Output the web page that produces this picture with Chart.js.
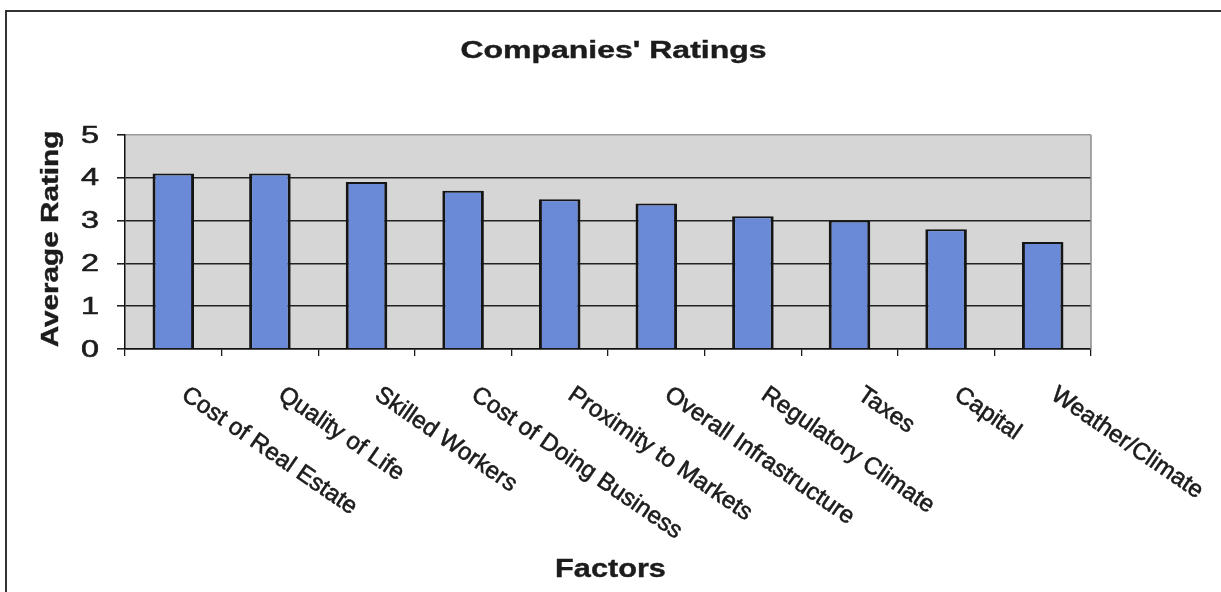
<!DOCTYPE html>
<html>
<head>
<meta charset="utf-8">
<script src="https://cdn.jsdelivr.net/npm/chart.js@4.4.1/dist/chart.umd.min.js"></script>
<style>
  html, body { margin: 0; padding: 0; background: #fff; }
  #wrap { width: 1221px; height: 592px; }
</style>
</head>
<body>
<div id="wrap"><canvas id="chart"></canvas></div>
<script>
// Companies' ratings by location factor
const factors = [
  "Cost of Real Estate", "Quality of Life", "Skilled Workers", "Cost of Doing Business",
  "Proximity to Markets", "Overall Infrastructure", "Regulatory Climate", "Taxes",
  "Capital", "Weather/Climate"
];
const ratings = [4.1, 4.1, 3.9, 3.7, 3.5, 3.4, 3.1, 3.0, 2.8, 2.5];
const yTicks = [0, 1, 2, 3, 4, 5];

const chartTitle = "Companies' Ratings";
const xTitle = "Factors";
const yTitle = "Average Rating";

const INK = "#1c1c1c";
const FONT = "'Liberation Sans', Arial, sans-serif";

// draw text with optional rotation, horizontal stretch and a thin outline
function drawText(ctx, text, x, y, o) {
  ctx.save();
  ctx.font = o.font;
  ctx.fillStyle = INK;
  ctx.strokeStyle = INK;
  ctx.lineWidth = o.stroke || 0;
  ctx.textAlign = o.align || "center";
  ctx.textBaseline = o.baseline || "alphabetic";
  ctx.translate(x, y);
  if (o.rot) ctx.rotate(o.rot * Math.PI / 180);
  ctx.scale(o.sx || 1, 1);
  ctx.fillText(text, 0, 0);
  if (o.stroke) ctx.strokeText(text, 0, 0);
  ctx.restore();
}

const decor = {
  id: "decor",
  beforeDraw(chart) {
    const { ctx, chartArea: a } = chart;
    ctx.save();
    ctx.fillStyle = "#d6d6d6";
    ctx.fillRect(a.left, a.top, a.right - a.left, a.bottom - a.top);
    ctx.restore();
  },
  afterDraw(chart) {
    const { ctx, chartArea: a } = chart;
    const xs = chart.scales.x, ys = chart.scales.y;

    ctx.save();
    // right edge of plot
    ctx.strokeStyle = "#8c8c8c";
    ctx.lineWidth = 1.5;
    ctx.beginPath();
    ctx.moveTo(a.right, a.top);
    ctx.lineTo(a.right, a.bottom);
    ctx.stroke();
    // outer frame
    ctx.strokeStyle = "#333";
    ctx.lineWidth = 2;
    ctx.beginPath();
    ctx.moveTo(chart.width, 11);
    ctx.lineTo(6, 11);
    ctx.lineTo(6, chart.height);
    ctx.stroke();
    ctx.restore();

    // y tick labels
    yTicks.forEach(v => {
      drawText(ctx, String(v), 99, ys.getPixelForValue(v) + 1, {
        font: "24px " + FONT, align: "right", baseline: "middle", sx: 1.35, stroke: 0.6
      });
    });

    // slanted category labels
    factors.forEach((f, i) => {
      drawText(ctx, f, xs.getPixelForValue(i) + 7, 398, {
        font: "24px " + FONT, align: "left", rot: 34.5, stroke: 0.6
      });
    });

    drawText(ctx, chartTitle, 613.5, 57.5, { font: "bold 23px " + FONT, sx: 1.39, stroke: 0.4 });
    drawText(ctx, xTitle, 610.5, 576.5, { font: "bold 26px " + FONT, sx: 1.18, stroke: 0.4 });
    drawText(ctx, yTitle, 58, 239, { font: "bold 23px " + FONT, rot: -90, sx: 1.29, stroke: 0.4 });
  }
};

new Chart(document.getElementById("chart"), {
  type: "bar",
  data: {
    labels: factors,
    datasets: [{
      data: ratings,
      backgroundColor: "#6a8ad8",
      borderColor: "#151515",
      borderWidth: { top: 2, left: 3, right: 3, bottom: 0 },
      barPercentage: 0.43,
      categoryPercentage: 1,
    }]
  },
  options: {
    responsive: true, maintainAspectRatio: false, animation: false,
    layout: { padding: { top: 135, right: 130, left: 0, bottom: 0 } },
    plugins: { legend: { display: false }, tooltip: { enabled: false } },
    scales: {
      x: {
        grid: { offset: true, drawOnChartArea: false, tickLength: 7, color: INK, lineWidth: 1.3 },
        border: { color: "#111", width: 1.5 },
        ticks: { display: false },
        afterFit: s => { s.height = 243; }
      },
      y: {
        min: 0, max: 5,
        ticks: { display: false, stepSize: 1 },
        grid: {
          color: c => c.tick && c.tick.value === 5 ? "#9a9a9a" : "#222",
          tickColor: "#222",
          tickLength: 8,
          lineWidth: 1.6
        },
        border: { color: "#111", width: 1.5 },
        afterFit: s => { s.width = 125; }
      }
    }
  },
  plugins: [decor]
});
</script>
</body>
</html>
